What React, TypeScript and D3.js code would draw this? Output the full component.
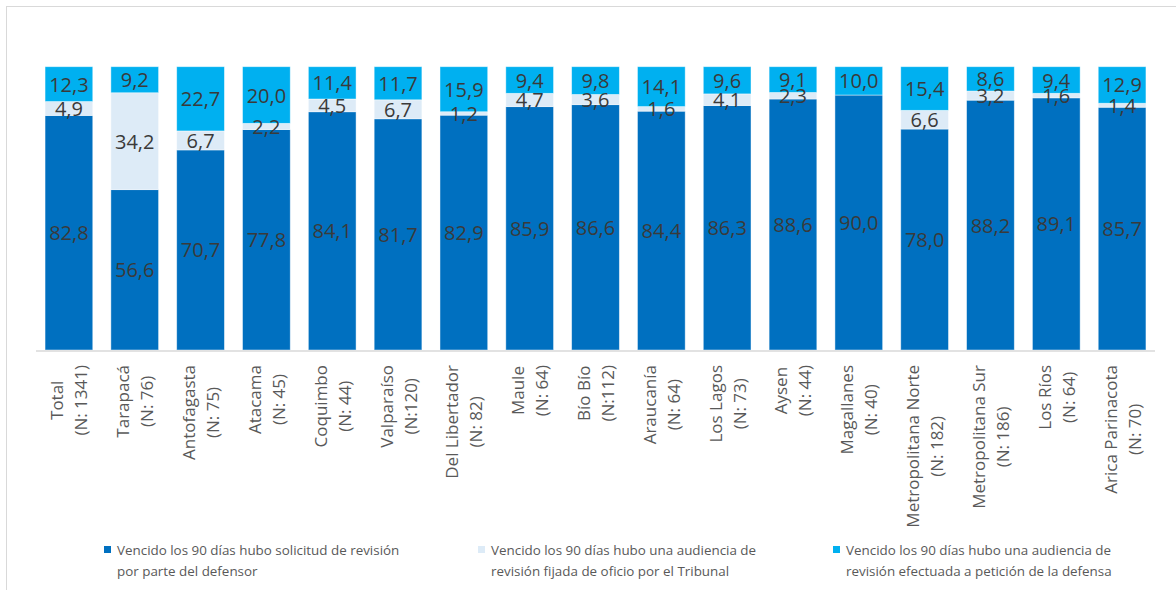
import React, { useEffect, useRef } from "react";
import * as d3 from "d3";

const categoryNames = [
  "Total", "Tarapacá", "Antofagasta", "Atacama", "Coquimbo", "Valparaíso",
  "Del Libertador", "Maule", "Bío Bío", "Araucanía", "Los Lagos", "Aysen",
  "Magallanes", "Metropolitana Norte", "Metropolitana Sur", "Los Ríos", "Arica Parinacota",
];
const categoryN = [
  "(N: 1341)", "(N: 76)", "(N: 75)", "(N: 45)", "(N: 44)", "(N:120)",
  "(N: 82)", "(N: 64)", "(N:112)", "(N: 64)", "(N: 73)", "(N: 44)",
  "(N: 40)", "(N: 182)", "(N: 186)", "(N: 64)", "(N: 70)",
];
const solicitudDefensor = [82.8, 56.6, 70.7, 77.8, 84.1, 81.7, 82.9, 85.9, 86.6, 84.4, 86.3, 88.6, 90.0, 78.0, 88.2, 89.1, 85.7];
const oficioTribunal = [4.9, 34.2, 6.7, 2.2, 4.5, 6.7, 1.2, 4.7, 3.6, 1.6, 4.1, 2.3, 0, 6.6, 3.2, 1.6, 1.4];
const peticionDefensa = [12.3, 9.2, 22.7, 20.0, 11.4, 11.7, 15.9, 9.4, 9.8, 14.1, 9.6, 9.1, 10.0, 15.4, 8.6, 9.4, 12.9];

const seriesNames = [
  ["Vencido los 90 días hubo solicitud de revisión", "por parte del defensor"],
  ["Vencido los 90 días hubo una audiencia de", "revisión fijada de oficio por el Tribunal"],
  ["Vencido los 90 días hubo una audiencia de", "revisión efectuada a petición de la defensa"],
];
const seriesColors = ["#0070C0", "#DDEBF7", "#00B0F0"];

export default function App() {
  const ref = useRef<SVGSVGElement | null>(null);

  useEffect(() => {
    const svg = d3.select(ref.current);
    svg.selectAll("*").remove();
    const W = 1176, H = 590;
    const left = 36, right = 1155, top = 66.7, bottom = 350;

    // frame
    svg.append("rect").attr("x", 6.5).attr("y", 6.5).attr("width", W + 10).attr("height", H + 10)
      .attr("fill", "none").attr("stroke", "#d9d9d9").attr("stroke-width", 1);

    const x = d3.scaleBand<number>().domain(d3.range(categoryNames.length)).range([left, right]).paddingInner(0.275).paddingOuter(0.1375);
    const y = d3.scaleLinear().domain([0, 100]).range([bottom, top]);

    const rows = categoryNames.map((_, i) => {
      const vals = [solicitudDefensor[i], oficioTribunal[i], peticionDefensa[i]];
      const s = d3.sum(vals);
      return { i, vals, norm: vals.map(v => (v / s) * 100) };
    });

    const g = svg.append("g");
    rows.forEach(r => {
      let acc = 0;
      r.norm.forEach((nv, k) => {
        const y0 = acc, y1 = acc + nv;
        acc = y1;
        if (nv <= 0) return;
        g.append("rect")
          .attr("x", x(r.i)!)
          .attr("width", x.bandwidth())
          .attr("y", y(y1))
          .attr("height", y(y0) - y(y1))
          .attr("fill", seriesColors[k])
          .attr("stroke", "rgba(255,255,255,0.55)")
          .attr("stroke-width", 0.8);
      });
    });
    // labels
    rows.forEach(r => {
      let acc = 0;
      r.norm.forEach((nv, k) => {
        const y0 = acc, y1 = acc + nv;
        acc = y1;
        if (r.vals[k] <= 0) return;
        g.append("text")
          .attr("x", x(r.i)! + x.bandwidth() / 2)
          .attr("y", (y(y0) + y(y1)) / 2)
          .attr("text-anchor", "middle")
          .attr("dominant-baseline", "central")
          .attr("font-family", "Open Sans")
          .attr("font-size", 20)
          .attr("fill", "#3a3a3a")
          .text(d3.format(".1f")(r.vals[k]).replace(".", ","));
      });
    });

    // axis line
    svg.append("line").attr("x1", left).attr("x2", right).attr("y1", bottom + 1).attr("y2", bottom + 1)
      .attr("stroke", "#d9d9d9").attr("stroke-width", 1.5);

    // category labels
    categoryNames.forEach((name, i) => {
      const cx = x(i)! + x.bandwidth() / 2;
      const lg = svg.append("g").attr("transform", `translate(${cx},365) rotate(-90)`);
      const lines = [name, categoryN[i]];
      const texts = lines.map((t, j) =>
        lg.append("text")
          .attr("y", j === 0 ? -12 : 12)
          .attr("text-anchor", "middle")
          .attr("dominant-baseline", "central")
          .attr("font-family", "Open Sans")
          .attr("font-size", 17)
          .attr("fill", "#595959")
          .text(t)
      );
      const maxL = d3.max(texts, t => (t.node() as SVGTextElement).getComputedTextLength()) || 0;
      texts.forEach(t => t.attr("x", -maxL / 2));
    });

    // legend
    const legendX = [104, 478, 833];
    seriesNames.forEach((lines, k) => {
      svg.append("rect").attr("x", legendX[k]).attr("y", 546).attr("width", 7).attr("height", 7).attr("fill", seriesColors[k]);
      lines.forEach((t, j) => {
        svg.append("text")
          .attr("x", legendX[k] + 13)
          .attr("y", 550 + j * 21)
          .attr("dominant-baseline", "central")
          .attr("font-family", "Open Sans")
          .attr("font-size", 13.4)
          .attr("fill", "#595959")
          .text(t);
      });
    });
  }, []);

  return (
    <svg ref={ref} width={1176} height={590} style={{ position: "absolute", left: 0, top: 0, background: "#fff" }} />
  );
}
